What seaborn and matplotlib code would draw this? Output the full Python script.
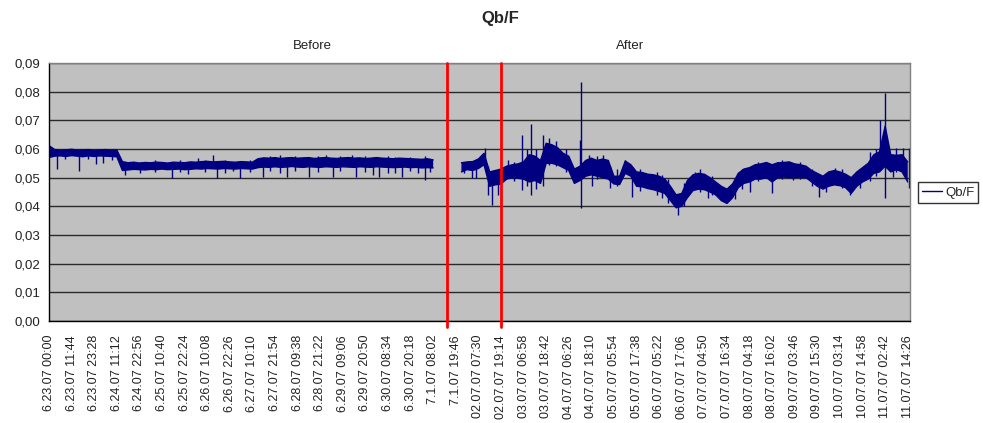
import numpy as np
import pandas as pd
import matplotlib
matplotlib.use('Agg')
import matplotlib.pyplot as plt
import seaborn as sns
from matplotlib.lines import Line2D
from matplotlib.ticker import FuncFormatter

# Qb/F band (min / max of the readings in each category step), units of 1e-4
# None = no readings (gap between the two runs)
band_lo = [
    570, 575, 576, 574, 577, 575, 573, 576, 574, 576, 575, 574, 573,
    525, 527, 529, 528, 527, 529, 528, 530, 528, 529, 530, 528, 529,
    531, 530, 532, 531, 530, 532, 531, 530, 532, 531, 530,
    535, 537, 536, 538, 536, 537, 539, 537, 536, 538, 537, 536, 538,
    537, 536, 538, 537, 536, 538, 537, 536, 538, 537, 536, 535, 536,
    537, 535, 536, 534, 535, 534,
    None, None, None, None,
    520, 528, 525, 532, 545, 470, 475, 478, 495, 500, 498, 495, 485,
    490, 480, 550, 550, 545, 535, 525, 480, 490, 505, 510, 505, 500,
    495, 478, 476, 515, 505, 470, 468, 462, 458, 452, 445, 420, 395,
    400, 430, 455, 460, 458, 450, 440, 420, 410, 430, 465, 480, 485,
    495, 495, 500, 485, 500, 502, 500, 500, 502, 500, 485, 470, 460,
    470, 475, 472, 465, 445, 470, 485, 495, 515, 520, 540, 520, 528,
    520, 485,
]
band_hi = [
    612, 598, 596, 597, 599, 596, 597, 598, 595, 597, 598, 596, 597,
    556, 552, 554, 551, 553, 552, 554, 553, 551, 554, 553, 552, 555,
    554, 556, 557, 555, 556, 557, 555, 554, 556, 555, 554,
    566, 569, 568, 570, 567, 569, 570, 568, 569, 570, 567, 569, 570,
    568, 567, 569, 570, 568, 569, 567, 568, 570, 568, 567, 566, 568,
    567, 566, 565, 564, 566, 562,
    None, None, None, None,
    552, 555, 556, 565, 585, 520, 525, 530, 540, 545, 548, 555, 580,
    575, 560, 620, 615, 605, 585, 575, 530, 540, 560, 568, 560, 565,
    560, 505, 505, 558, 545, 520, 518, 512, 510, 505, 495, 470, 440,
    445, 490, 510, 515, 512, 500, 485, 470, 460, 478, 515, 530, 535,
    545, 548, 553, 545, 552, 553, 555, 548, 545, 540, 525, 515, 505,
    520, 525, 520, 512, 500, 520, 535, 550, 580, 590, 680, 580, 578,
    580, 555,
]

# single-reading spikes: category position, low and high reading (1e-4)
spike_pos = [1.4, 2.8, 5.3, 6.9, 8.3, 9.6, 11.2, 13.5, 16.1, 18.8, 21.7, 23.2,
             24.6, 26.4, 27.6, 29, 29.7, 31.2, 32.5, 33.8, 35.6, 37.9, 39.1,
             40.9, 42.1, 43.5, 46, 47.6, 49, 50.3, 51.5, 53.6, 54.3, 55.9,
             57.3, 58.4, 60, 61.2, 62.5, 63.9, 65.3, 66.5, 67.4,
             73.5, 74.8, 75.6, 77.2, 77.7, 78.5, 79.5, 81.2, 82.3, 83.7, 84.6,
             85.3, 86.2, 87.4, 88.5, 89.7, 91.5, 94, 94.2, 95.6, 96.1, 97, 98,
             99.3, 100.5, 102, 103.2, 104.6, 107.6, 108.5, 109.6, 111.3, 112.4,
             114.3, 115.2, 116.6, 117.3, 121.4, 122.7, 124.1, 125.5, 126.7, 128,
             129.7, 131.2, 131.7, 132.9, 135, 136.3, 137.5, 139.1, 140.4, 141.8,
             143.5, 145.3, 146.4, 147.1, 148, 149.4, 149.9, 151.2, 152.2]
spike_lo = [530, 565, 525, 565, 548, 552, 560, 510, 515, 520, 499, 520,
            513, 540, 520, 540, 500, 515, 523, 499, 520, 502, 525,
            516, 502, 525, 502, 520, 545, 502, 525, 545, 504, 520,
            509, 502, 515, 516, 502, 525, 516, 492, 520,
            516, 499, 500, 540, 440, 405, 440, 505, 490, 457, 470,
            440, 460, 470, 545, 540, 520, 500, 394, 510, 470, 495, 510,
            464, 470, 520, 432, 455, 440, 430, 410, 370, 400,
            470, 450, 429, 440, 425, 460, 450, 490, 500, 446,
            495, 510, 492, 495, 470, 432, 450, 500, 465, 440,
            465, 490, 505, 540, 429, 502, 520, 530, 464]
spike_hi = [590, 600, 590, 601, 590, 590, 598, 550, 556, 560, 545, 560,
            545, 570, 563, 579, 545, 560, 550, 545, 560, 560, 575,
            580, 560, 575, 560, 575, 580, 560, 576, 579, 560, 575,
            572, 560, 575, 571, 560, 572, 560, 575, 565,
            550, 545, 545, 603, 540, 500, 510, 560, 555, 649, 600,
            687, 600, 649, 640, 628, 600, 630, 834, 580, 560, 575, 580,
            540, 530, 560, 520, 530, 520, 510, 495, 430, 480,
            520, 530, 500, 505, 495, 530, 520, 555, 551, 520,
            560, 555, 540, 555, 530, 500, 510, 534, 530, 500,
            530, 590, 600, 701, 795, 560, 605, 603, 603]

tick_labels = [
    '6.23.07 00:00', '6.23.07 11:44', '6.23.07 23:28', '6.24.07 11:12',
    '6.24.07 22:56', '6.25.07 10:40', '6.25.07 22:24', '6.26.07 10:08',
    '6.26.07 22:26', '6.27.07 10:10', '6.27.07 21:54', '6.28.07 09:38',
    '6.28.07 21:22', '6.29.07 09:06', '6.29.07 20:50', '6.30.07 08:34',
    '6.30.07 20:18', '7.1.07 08:02', '7.1.07 19:46', '02.07.07 07:30',
    '02.07.07 19:14', '03.07.07 06:58', '03.07.07 18:42', '04.07.07 06:26',
    '04.07.07 18:10', '05.07.07 05:54', '05.07.07 17:38', '06.07.07 05:22',
    '06.07.07 17:06', '07.07.07 04:50', '07.07.07 16:34', '08.07.07 04:18',
    '08.07.07 16:02', '09.07.07 03:46', '09.07.07 15:30', '10.07.07 03:14',
    '10.07.07 14:58', '11.07.07 02:42', '11.07.07 14:26',
]
label_step = 4
marker_idx = [70.4, 80]  # red before/after markers (category position)

navy = '#000080'

lo = np.array(band_lo, dtype=float) / 10000
hi = np.array(band_hi, dtype=float) / 10000
idx = np.arange(len(lo))
seg = np.cumsum(np.isnan(lo))
edges = pd.concat([
    pd.DataFrame({'idx': idx, 'val': lo, 'grp': ['lo%d' % s for s in seg]}),
    pd.DataFrame({'idx': idx, 'val': hi, 'grp': ['hi%d' % s for s in seg]}),
]).dropna()

sns.set_style('white')
plt.rcParams['font.family'] = ['Liberation Sans', 'DejaVu Sans']

fig = plt.figure(figsize=(9.83, 4.23), dpi=100)
ax = fig.add_axes([49/983, 1 - 321/423, (910 - 49)/983, (321 - 63)/423])
ax.set_facecolor('#c0c0c0')

ok = ~np.isnan(lo)
ax.fill_between(idx, np.nan_to_num(lo), np.nan_to_num(hi), where=ok, color=navy, lw=0, zorder=2)
sns.lineplot(data=edges, x='idx', y='val', units='grp', estimator=None,
             color=navy, lw=1, legend=False, ax=ax, zorder=2)
ax.vlines(spike_pos, np.array(spike_lo) / 10000, np.array(spike_hi) / 10000,
          color=navy, lw=1, zorder=2)

ax.set_xlim(0, 152.4)
ax.set_ylim(0, 0.09)
ax.set_yticks(np.arange(0, 0.0901, 0.01))
ax.yaxis.set_major_formatter(FuncFormatter(lambda v, p: f'{v:.2f}'.replace('.', ',')))
ax.set_xticks(np.arange(len(tick_labels)) * label_step)
ax.set_xticklabels(tick_labels, rotation=90, fontsize=9, color='#222222')
ax.tick_params(axis='x', length=0, pad=10)
ax.tick_params(axis='y', length=4, direction='out', labelsize=9.5, labelcolor='#222222', pad=2)
ax.set_xlabel('')
ax.set_ylabel('')
ax.grid(True, axis='y', color='#2a2a2a', lw=1)
ax.set_axisbelow(True)

for s in ['left', 'bottom']:
    ax.spines[s].set_color('black')
    ax.spines[s].set_linewidth(1)
for s in ['top', 'right']:
    ax.spines[s].set_color('#808080')
    ax.spines[s].set_linewidth(1)

for m in marker_idx:
    ax.axvline(m, ymin=-0.025, ymax=1, color='#ff0000', lw=2, clip_on=False, zorder=3)

fig.text(500/983, 1 - 18/423, 'Qb/F', ha='center', va='center', fontsize=12, fontweight='bold')
fig.text(312/983, 1 - 46/423, 'Before', ha='center', va='center', fontsize=9.5, color='#222222')
fig.text(630/983, 1 - 46/423, 'After', ha='center', va='center', fontsize=9.5, color='#222222')

handle = Line2D([], [], color=navy, lw=1)
leg = fig.legend([handle], ['Qb/F'], loc='center left', bbox_to_anchor=(918/983, 1 - 192.5/423),
                 frameon=True, fancybox=False, edgecolor='black', fontsize=9.5,
                 handlelength=1.5, borderpad=0.3, handletextpad=0.25, borderaxespad=0)
leg.get_frame().set_linewidth(1)

fig.savefig('out.png', dpi=100)
